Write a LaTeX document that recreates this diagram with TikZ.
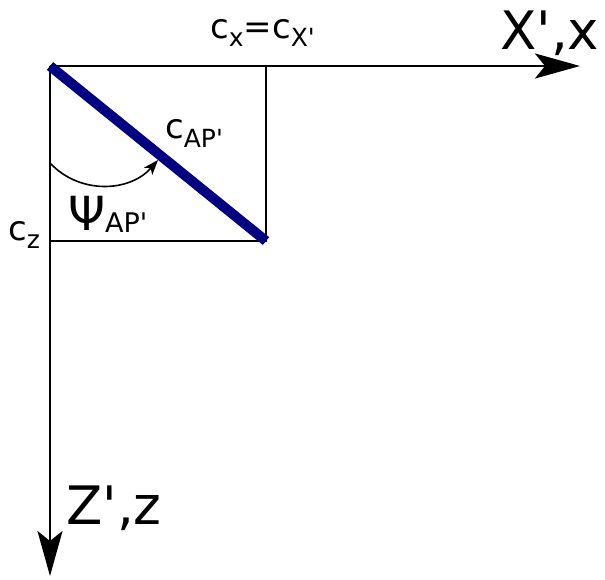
\documentclass[tikz,border=0pt]{standalone}
\usepackage{fontspec}
\setmainfont{DejaVu Sans}
\usetikzlibrary{arrows.meta}
\newcommand\mysub[3][25]{\raisebox{-#2}{\fontsize{#1}{#1}\selectfont #3}}
\newcommand\pr{\textquotesingle}
\begin{document}
\begin{tikzpicture}[x=1pt,y=-1pt,
  axis/.style={line width=2.8pt,-{Stealth[length=45pt,width=25pt,inset=10pt]}},
  frame/.style={line width=2.8pt},
  bar/.style={line width=10pt,color=navyblue},
  bigl/.style={font=\fontsize{53}{53}\selectfont,inner sep=0pt},
  midl/.style={font=\fontsize{34}{34}\selectfont,inner sep=0pt},
  psil/.style={font=\fontsize{47}{47}\selectfont,inner sep=0pt}]
\definecolor{navyblue}{RGB}{0,0,128}
\useasboundingbox (0,0) rectangle (605,579);
\coordinate (O) at (50,66);
\coordinate (B) at (266,241);
\coordinate (Xend) at (580,66);
\coordinate (Zend) at (50,576);
\coordinate (TR) at (266,66);
\coordinate (BL) at (50,241);
\coordinate (aS) at (50,163);
\coordinate (aE) at (158,160);
\draw[frame] (O) -- (TR) -- (B) -- (BL);
\draw[axis] (O) -- (Xend);
\draw[axis] (O) -- (Zend);
\draw[bar] (O) -- (B);
\draw[line width=1.6pt,-{Stealth[length=15pt,width=11pt,inset=4pt]}] (aS) .. controls (80,195) and (130,192) .. (aE);
\node[midl,anchor=base west] (cx) at (210,38) {c\mysub{8pt}{x}=c\mysub{8pt}{X\pr}};
\node[bigl,anchor=base west] (X) at (500,49) {X\pr,x};
\node[bigl,anchor=base west] (Z) at (66,524) {Z\pr,z};
\node[midl,anchor=base west] (cap) at (165,138) {c\mysub{9pt}{AP\pr}};
\node[psil,anchor=base west] (psi) at (68,230) {Ψ\mysub[27]{2pt}{AP\pr}};
\node[midl,anchor=base west] (cz) at (8,240) {c\mysub{8pt}{z}};
\end{tikzpicture}
\end{document}
